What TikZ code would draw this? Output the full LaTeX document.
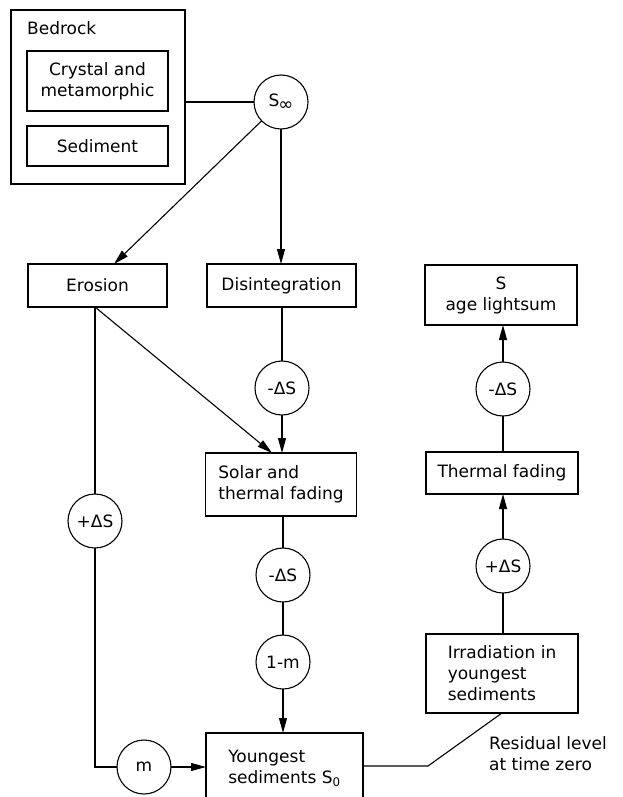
\documentclass[tikz,border=0pt]{standalone}
\usepackage{fontspec}
\setmainfont{DejaVu Sans}
\usetikzlibrary{arrows.meta}
\begin{document}
\begin{tikzpicture}[x=1pt,y=-1pt,
  every node/.style={font=\fontsize{17}{21}\selectfont},
  ln/.style={line width=1.1pt},
  arr/.style={ln,-{Triangle[length=15pt,width=8pt]}},
  box/.style={draw,line width=1.1pt,inner sep=0pt,outer sep=0pt},
  circ/.style={draw,circle,line width=1.1pt,minimum size=54pt,inner sep=0pt,outer sep=0pt}]
\useasboundingbox (0,0) rectangle (622,797);
% bedrock group
\node[box,minimum width=174pt,minimum height=174pt] (bedrock) at (98,97) {};
\node[anchor=west,inner sep=0pt] (bedrockLbl) at (27,28) {Bedrock};
\node[box,minimum width=141pt,minimum height=60pt,align=center] (crystal) at (97.5,81) {Crystal and\\metamorphic};
\node[box,minimum width=141pt,minimum height=40pt] (sediment) at (97.5,146) {Sediment};
\node[circ] (Sinf) at (281,102) {S\kern-1pt\raisebox{-4pt}{\fontsize{18}{18}\selectfont ∞}};
% boxes
\node[box,minimum width=139pt,minimum height=43pt] (erosion) at (97.5,285.5) {Erosion};
\node[box,minimum width=149pt,minimum height=43pt] (disint) at (281.5,285.5) {Disintegration};
\node[box,minimum width=152pt,minimum height=60pt,align=center] (sage) at (501,295) {S\\age lightsum};
\node[box,minimum width=151pt,minimum height=63pt,align=left] (solar) at (281,484.5) {Solar and\\thermal fading};
\node[box,minimum width=152pt,minimum height=42pt] (thermal) at (502,473) {Thermal fading};
\node[box,minimum width=152pt,minimum height=79pt,align=left] (irr) at (502,673.5) {Irradiation in\\youngest\\sediments};
\node[box,minimum width=157pt,minimum height=70pt,align=left] (young) at (284.5,768) {Youngest\\sediments S\textsubscript{0}};
% circles
\node[circ] (minus1) at (282,388) {-ΔS};
\node[circ] (minusR) at (503,389) {-ΔS};
\node[circ] (plusL) at (95,521) {+ΔS};
\node[circ] (minus2) at (283,575) {-ΔS};
\node[circ] (plusR) at (503,566) {+ΔS};
\node[circ] (onem) at (283,662) {1-m};
\node[circ] (m) at (144,767) {m};
\node[anchor=west,align=left,inner sep=0pt] (resid) at (489,753.5) {Residual level\\at time zero};
% coordinates
\coordinate (eroIn) at (114,264);
\coordinate (eroOut) at (95,307);
\coordinate (solIn) at (272,453);
\coordinate (corner) at (95,767);
\coordinate (bend) at (428,766);
% connectors
\draw[ln] (bedrock.east |- Sinf.west) -- (Sinf.west);
\draw[arr] (Sinf) -- (eroIn);
\draw[arr] (Sinf.south) -- (Sinf.south |- disint.north);
\draw[ln] (disint.south -| minus1) -- (minus1.north);
\draw[arr] (minus1.south) -- (minus1.south |- solar.north);
\draw[arr] (eroOut) -- (solIn);
\draw[ln] (eroOut) -- (plusL.north);
\draw[ln] (plusL.south) -- (corner) -- (m.west);
\draw[arr] (m.east) -- (young.west |- m.east);
\draw[ln] (solar.south -| minus2) -- (minus2.north);
\draw[ln] (minus2.south) -- (onem.north);
\draw[arr] (onem.south) -- (onem.south |- young.north);
\draw[ln] (young.east |- bend) -- (bend) -- (irr.south);
\draw[ln] (irr.north -| plusR) -- (plusR.south);
\draw[arr] (plusR.north) -- (plusR.north |- thermal.south);
\draw[ln] (thermal.north -| minusR) -- (minusR.south);
\draw[arr] (minusR.north) -- (minusR.north |- sage.south);
\end{tikzpicture}
\end{document}
